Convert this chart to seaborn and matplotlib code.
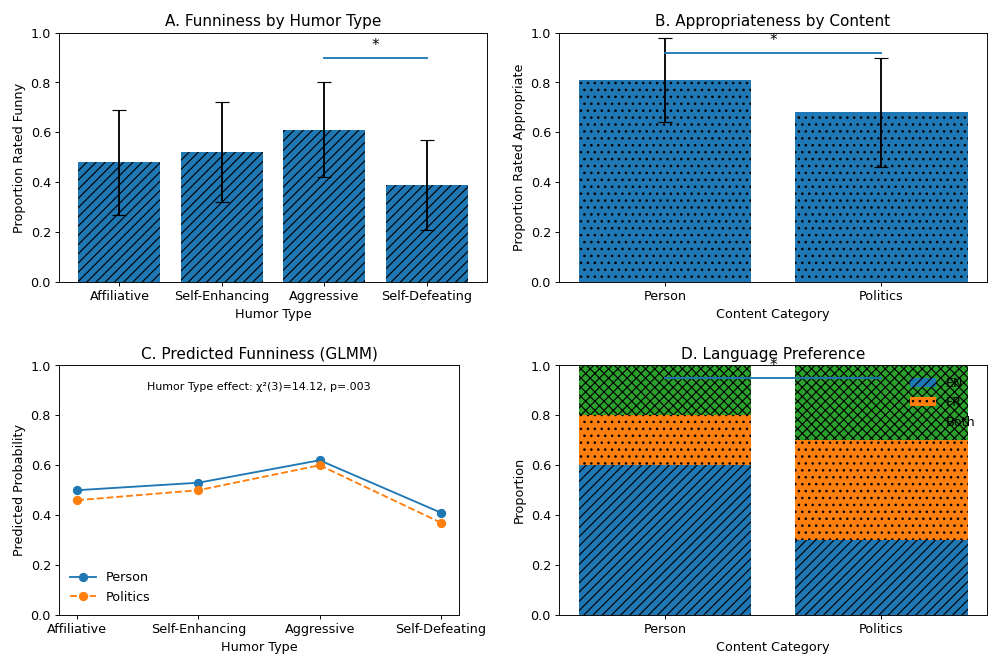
import matplotlib
matplotlib.use('Agg')
import matplotlib.pyplot as plt
import seaborn as sns
import pandas as pd
import numpy as np

# Values
humor_types = ['Affiliative', 'Self-Enhancing', 'Aggressive', 'Self-Defeating']
funny_mean = [0.48, 0.52, 0.61, 0.39]
funny_lo = [0.27, 0.32, 0.42, 0.21]
funny_hi = [0.69, 0.72, 0.80, 0.57]

content = ['Person', 'Politics']
approp_mean = [0.81, 0.68]
approp_lo = [0.64, 0.46]
approp_hi = [0.98, 0.90]

pred_person = [0.50, 0.53, 0.62, 0.41]
pred_politics = [0.46, 0.50, 0.60, 0.37]

lang_en = [0.6, 0.3]
lang_fr = [0.2, 0.4]
lang_both = [0.2, 0.3]

plt.rcParams['font.size'] = 11
plt.rcParams['lines.linewidth'] = 1.6

fig, axs = plt.subplots(2, 2, figsize=(12, 8.005), dpi=83.34)

# A. Funniness by humor type
ax = axs[0, 0]
sns.barplot(x=humor_types, y=funny_mean, color='C0', saturation=1, hatch='///', ax=ax)
yerr = [np.subtract(funny_mean, funny_lo), np.subtract(funny_hi, funny_mean)]
ax.errorbar(np.arange(len(humor_types)), funny_mean, yerr=yerr, fmt='none', ecolor='black', capsize=6)
ax.plot([2, 3], [0.9, 0.9], color='C0')
ax.text(2.5, 0.92, '*', ha='center', va='bottom', fontsize=13)
ax.autoscale(enable=True, axis='x')
ax.set_ylim(0, 1)
ax.set_title('A. Funniness by Humor Type')
ax.set_xlabel('Humor Type')
ax.set_ylabel('Proportion Rated Funny')

# B. Appropriateness by content
ax = axs[0, 1]
sns.barplot(x=content, y=approp_mean, color='C0', saturation=1, hatch='..', ax=ax)
yerr = [np.subtract(approp_mean, approp_lo), np.subtract(approp_hi, approp_mean)]
ax.errorbar(np.arange(len(content)), approp_mean, yerr=yerr, fmt='none', ecolor='black', capsize=6)
ax.plot([0, 1], [0.92, 0.92], color='C0')
ax.text(0.5, 0.94, '*', ha='center', va='bottom', fontsize=13)
ax.autoscale(enable=True, axis='x')
ax.set_ylim(0, 1)
ax.set_title('B. Appropriateness by Content')
ax.set_xlabel('Content Category')
ax.set_ylabel('Proportion Rated Appropriate')

# C. Predicted funniness (GLMM)
ax = axs[1, 0]
pos = np.arange(len(humor_types))
sns.lineplot(x=pos, y=pred_person, color='C0', marker='o', ms=7, mec='C0', mew=1, label='Person', ax=ax)
sns.lineplot(x=pos, y=pred_politics, color='C1', marker='o', ms=7, mec='C1', mew=1, linestyle='--', label='Politics', ax=ax)
ax.set_xticks(pos)
ax.set_xticklabels(humor_types)
ax.set_ylim(0, 1)
ax.text(0.5, 0.915, 'Humor Type effect: χ²(3)=14.12, p=.003', transform=ax.transAxes,
        ha='center', va='center', fontsize=9.5)
ax.legend(loc='lower left', frameon=False)
ax.set_title('C. Predicted Funniness (GLMM)')
ax.set_xlabel('Humor Type')
ax.set_ylabel('Predicted Probability')

# D. Language preference (stacked)
ax = axs[1, 1]
bottom_fr = np.array(lang_en)
bottom_both = bottom_fr + np.array(lang_fr)
sns.barplot(x=content, y=lang_en, color='C0', saturation=1, hatch='///', label='EN', ax=ax)
sns.barplot(x=content, y=lang_fr, bottom=bottom_fr, color='C1', saturation=1, hatch='..', label='FR', ax=ax)
sns.barplot(x=content, y=lang_both, bottom=bottom_both, color='C2', saturation=1, hatch='xxx', label='Both', ax=ax)
ax.plot([0, 1], [0.95, 0.95], color='C0')
ax.text(0.5, 0.97, '*', ha='center', va='bottom', fontsize=13)
ax.autoscale(enable=True, axis='x')
ax.set_ylim(0, 1)
ax.legend(loc='upper right', frameon=False)
ax.set_title('D. Language Preference')
ax.set_xlabel('Content Category')
ax.set_ylabel('Proportion')

# Panel placement to match the original layout (C is a bit narrower)
axs[0, 0].set_position([0.059, 0.577, 0.428, 0.374])
axs[0, 1].set_position([0.559, 0.577, 0.428, 0.374])
axs[1, 0].set_position([0.059, 0.078, 0.400, 0.374])
axs[1, 1].set_position([0.559, 0.078, 0.428, 0.374])

plt.savefig('out.png')
